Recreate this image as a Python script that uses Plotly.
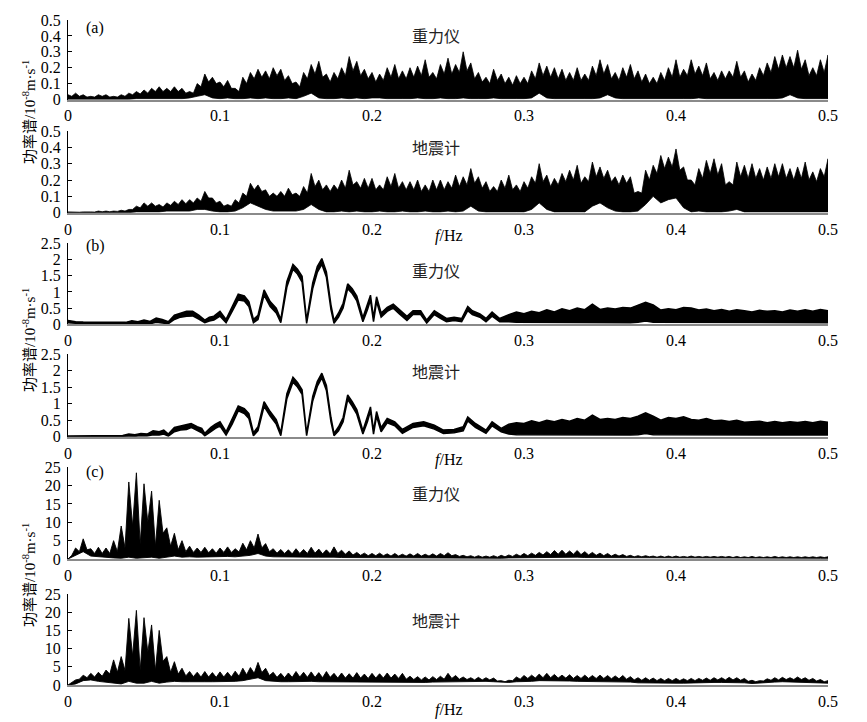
import plotly.graph_objects as go

W, H = 867, 722

# ---------------- data ----------------
FREQ_STEP = 0.005
freq = [round(i * FREQ_STEP, 4) for i in range(101)]

x_tickvals = [0, 0.1, 0.2, 0.3, 0.4, 0.5]
x_ticktext = ["0", "0.1", "0.2", "0.3", "0.4", "0.5"]
y_ticks_a = [0, 0.1, 0.2, 0.3, 0.4, 0.5]
y_ticks_b = [0, 0.5, 1, 1.5, 2, 2.5]
y_ticks_c = [0, 5, 10, 15, 20, 25]

# (a) spectrum every 0.005 Hz: spike tops (hi), valleys between spikes (mid), bottom (lo)
a_grav_hi = [0.03, 0.04, 0.03, 0.02, 0.03, 0.03, 0.02, 0.03, 0.04, 0.05,
             0.06, 0.07, 0.08, 0.07, 0.08, 0.07, 0.05, 0.10, 0.16, 0.14,
             0.11, 0.12, 0.07, 0.14, 0.17, 0.19, 0.18, 0.20, 0.19, 0.15,
             0.11, 0.17, 0.22, 0.24, 0.16, 0.17, 0.20, 0.27, 0.24, 0.19,
             0.17, 0.16, 0.20, 0.22, 0.18, 0.20, 0.21, 0.25, 0.17, 0.22,
             0.26, 0.22, 0.30, 0.23, 0.17, 0.14, 0.19, 0.16, 0.14, 0.15,
             0.14, 0.18, 0.23, 0.21, 0.20, 0.19, 0.17, 0.20, 0.16, 0.21,
             0.25, 0.22, 0.17, 0.20, 0.22, 0.18, 0.16, 0.14, 0.17, 0.20,
             0.25, 0.19, 0.25, 0.21, 0.23, 0.17, 0.18, 0.18, 0.24, 0.18,
             0.16, 0.20, 0.23, 0.27, 0.28, 0.27, 0.31, 0.25, 0.20, 0.25,
             0.28]
a_grav_mid = [0.02, 0.02, 0.015, 0.015, 0.02, 0.015, 0.015, 0.02, 0.03, 0.035,
              0.04, 0.05, 0.05, 0.05, 0.05, 0.04, 0.04, 0.08, 0.11, 0.10,
              0.08, 0.07, 0.05, 0.10, 0.13, 0.14, 0.13, 0.15, 0.12, 0.10,
              0.08, 0.13, 0.16, 0.14, 0.11, 0.13, 0.15, 0.18, 0.15, 0.13,
              0.11, 0.12, 0.14, 0.13, 0.13, 0.14, 0.15, 0.14, 0.13, 0.16,
              0.16, 0.17, 0.18, 0.13, 0.11, 0.10, 0.12, 0.10, 0.09, 0.10,
              0.10, 0.13, 0.15, 0.14, 0.13, 0.12, 0.12, 0.12, 0.12, 0.15,
              0.16, 0.13, 0.12, 0.14, 0.13, 0.11, 0.10, 0.10, 0.12, 0.14,
              0.14, 0.15, 0.16, 0.15, 0.13, 0.12, 0.13, 0.14, 0.14, 0.11,
              0.12, 0.15, 0.17, 0.19, 0.20, 0.20, 0.19, 0.15, 0.15, 0.17]
a_grav_lo = [0.00, 0.00, 0.00, 0.00, 0.00, 0.00, 0.00, 0.00, 0.00, 0.005,
             0.005, 0.005, 0.005, 0.005, 0.005, 0.005, 0.01, 0.02, 0.03, 0.01,
             0.005, 0.01, 0.005, 0.005, 0.01, 0.005, 0.01, 0.005, 0.005, 0.01,
             0.005, 0.02, 0.04, 0.01, 0.005, 0.005, 0.01, 0.005, 0.01, 0.005,
             0.01, 0.01, 0.005, 0.005, 0.005, 0.005, 0.01, 0.005, 0.005, 0.01,
             0.005, 0.005, 0.01, 0.005, 0.005, 0.005, 0.01, 0.005, 0.005, 0.005,
             0.005, 0.01, 0.04, 0.01, 0.005, 0.005, 0.005, 0.005, 0.005, 0.005,
             0.01, 0.03, 0.01, 0.005, 0.005, 0.005, 0.005, 0.005, 0.005, 0.005,
             0.005, 0.005, 0.005, 0.01, 0.005, 0.005, 0.005, 0.005, 0.005, 0.005,
             0.005, 0.005, 0.005, 0.005, 0.01, 0.03, 0.01, 0.005, 0.005, 0.005,
             0.005]
a_seis_hi = [0.005, 0.005, 0.005, 0.005, 0.01, 0.01, 0.01, 0.015, 0.02, 0.04,
             0.06, 0.06, 0.05, 0.06, 0.07, 0.08, 0.08, 0.09, 0.13, 0.09,
             0.07, 0.05, 0.08, 0.12, 0.18, 0.17, 0.14, 0.12, 0.13, 0.15,
             0.12, 0.16, 0.24, 0.20, 0.17, 0.17, 0.20, 0.26, 0.19, 0.21,
             0.21, 0.17, 0.22, 0.24, 0.19, 0.19, 0.20, 0.17, 0.20, 0.20,
             0.19, 0.23, 0.22, 0.27, 0.22, 0.19, 0.16, 0.20, 0.23, 0.17,
             0.19, 0.22, 0.30, 0.23, 0.21, 0.24, 0.26, 0.29, 0.22, 0.31,
             0.28, 0.26, 0.22, 0.23, 0.22, 0.13, 0.26, 0.29, 0.35, 0.34,
             0.39, 0.28, 0.20, 0.27, 0.32, 0.33, 0.30, 0.19, 0.31, 0.29,
             0.30, 0.27, 0.28, 0.30, 0.30, 0.27, 0.28, 0.31, 0.25, 0.27,
             0.33]
a_seis_mid = [0.003, 0.003, 0.003, 0.004, 0.006, 0.006, 0.008, 0.01, 0.02, 0.03,
              0.04, 0.04, 0.035, 0.045, 0.05, 0.055, 0.06, 0.07, 0.09, 0.06,
              0.04, 0.04, 0.06, 0.10, 0.14, 0.13, 0.10, 0.10, 0.10, 0.11,
              0.10, 0.12, 0.16, 0.14, 0.13, 0.14, 0.15, 0.17, 0.15, 0.15,
              0.14, 0.14, 0.16, 0.15, 0.14, 0.14, 0.13, 0.13, 0.14, 0.14,
              0.15, 0.16, 0.17, 0.18, 0.15, 0.13, 0.13, 0.15, 0.14, 0.13,
              0.15, 0.18, 0.19, 0.16, 0.17, 0.19, 0.20, 0.18, 0.19, 0.22,
              0.21, 0.19, 0.17, 0.18, 0.12, 0.12, 0.20, 0.24, 0.27, 0.28,
              0.26, 0.20, 0.17, 0.21, 0.24, 0.23, 0.17, 0.17, 0.22, 0.21,
              0.21, 0.20, 0.21, 0.22, 0.21, 0.20, 0.21, 0.20, 0.19, 0.22]
a_seis_lo = [0.00, 0.00, 0.00, 0.00, 0.00, 0.00, 0.00, 0.00, 0.00, 0.005,
             0.005, 0.005, 0.005, 0.01, 0.01, 0.01, 0.01, 0.02, 0.02, 0.01,
             0.005, 0.005, 0.01, 0.03, 0.06, 0.04, 0.02, 0.01, 0.01, 0.01,
             0.01, 0.02, 0.05, 0.02, 0.005, 0.005, 0.01, 0.005, 0.01, 0.005,
             0.005, 0.01, 0.005, 0.005, 0.01, 0.005, 0.005, 0.01, 0.005, 0.005,
             0.01, 0.005, 0.01, 0.04, 0.01, 0.005, 0.005, 0.005, 0.005, 0.005,
             0.005, 0.02, 0.06, 0.02, 0.005, 0.005, 0.005, 0.005, 0.005, 0.04,
             0.06, 0.03, 0.01, 0.005, 0.005, 0.01, 0.05, 0.10, 0.06, 0.08,
             0.09, 0.03, 0.005, 0.01, 0.005, 0.005, 0.005, 0.01, 0.02, 0.005,
             0.005, 0.005, 0.005, 0.005, 0.005, 0.005, 0.005, 0.005, 0.005, 0.005,
             0.005]

# (b) thick smooth trace: breakpoints (Hz) with lower / upper edge of the trace
b_grav_f = [0.000, 0.005, 0.010, 0.020, 0.030, 0.038, 0.042, 0.046, 0.050, 0.054,
            0.058, 0.062, 0.066, 0.070, 0.074, 0.078, 0.082, 0.086, 0.090, 0.093,
            0.096, 0.100, 0.104, 0.108, 0.112, 0.116, 0.119, 0.122, 0.125, 0.129,
            0.133, 0.137, 0.140, 0.144, 0.148, 0.151, 0.154, 0.157, 0.161, 0.164,
            0.167, 0.170, 0.173, 0.175, 0.178, 0.181, 0.184, 0.187, 0.190, 0.194,
            0.197, 0.199, 0.201, 0.203, 0.206, 0.210, 0.214, 0.218, 0.223, 0.227,
            0.232, 0.236, 0.241, 0.245, 0.249, 0.254, 0.259, 0.263, 0.266, 0.271,
            0.275, 0.279, 0.284,
            0.290, 0.295, 0.300, 0.305, 0.310, 0.315, 0.320, 0.325, 0.330, 0.335,
            0.340, 0.345, 0.350, 0.355, 0.360, 0.365, 0.370, 0.375, 0.380, 0.385,
            0.390, 0.395, 0.400, 0.405, 0.410, 0.415, 0.420, 0.425, 0.430, 0.435,
            0.440, 0.445, 0.450, 0.455, 0.460, 0.465, 0.470, 0.475, 0.480, 0.485,
            0.490, 0.495, 0.500]
b_grav_hi = [0.12, 0.08, 0.07, 0.06, 0.05, 0.06, 0.11, 0.08, 0.13, 0.09,
             0.19, 0.15, 0.08, 0.28, 0.34, 0.40, 0.40, 0.28, 0.13, 0.22,
             0.25, 0.40, 0.15, 0.55, 0.93, 0.88, 0.70, 0.15, 0.28, 1.06,
             0.70, 0.50, 0.15, 1.32, 1.85, 1.70, 1.48, 0.12, 1.28, 1.78,
             2.03, 1.62, 0.60, 0.12, 0.35, 0.65, 1.25, 1.10, 0.87, 0.20,
             0.60, 0.90, 0.20, 0.85, 0.35, 0.52, 0.62, 0.45, 0.25, 0.42,
             0.42, 0.13, 0.42, 0.30, 0.18, 0.22, 0.18, 0.55, 0.42, 0.32,
             0.18, 0.38, 0.18,
             0.30, 0.38, 0.33, 0.40, 0.36, 0.45, 0.38, 0.48, 0.42, 0.50,
             0.45, 0.62, 0.46, 0.50, 0.47, 0.52, 0.50, 0.58, 0.68, 0.60,
             0.44, 0.48, 0.45, 0.52, 0.50, 0.44, 0.47, 0.42, 0.46, 0.40,
             0.45, 0.42, 0.38, 0.43, 0.40, 0.42, 0.38, 0.44, 0.40, 0.45,
             0.40, 0.46, 0.42]
b_grav_lo = [0.05, 0.03, 0.03, 0.02, 0.02, 0.02, 0.03, 0.02, 0.04, 0.02,
             0.06, 0.04, 0.02, 0.15, 0.22, 0.25, 0.26, 0.16, 0.05, 0.10,
             0.13, 0.25, 0.05, 0.40, 0.75, 0.72, 0.55, 0.05, 0.15, 0.90,
             0.55, 0.35, 0.05, 1.15, 1.70, 1.55, 1.30, 0.03, 1.10, 1.60,
             1.85, 1.45, 0.45, 0.03, 0.22, 0.50, 1.10, 0.95, 0.72, 0.08,
             0.45, 0.75, 0.08, 0.70, 0.22, 0.40, 0.50, 0.32, 0.12, 0.30,
             0.30, 0.04, 0.30, 0.18, 0.08, 0.12, 0.08, 0.42, 0.30, 0.22,
             0.08, 0.25, 0.08,
             0.08, 0.06, 0.06, 0.05, 0.06, 0.05, 0.05, 0.05, 0.05, 0.05,
             0.05, 0.05, 0.05, 0.05, 0.05, 0.05, 0.05, 0.06, 0.10, 0.06,
             0.05, 0.05, 0.05, 0.05, 0.05, 0.05, 0.05, 0.05, 0.05, 0.05,
             0.05, 0.05, 0.05, 0.05, 0.05, 0.05, 0.05, 0.05, 0.05, 0.05,
             0.05, 0.05, 0.05]

b_seis_f = [0.000, 0.030, 0.036, 0.040, 0.044, 0.048, 0.052, 0.056, 0.060, 0.063,
            0.066, 0.070, 0.074, 0.078, 0.081, 0.085, 0.088, 0.090, 0.094, 0.097,
            0.100, 0.104, 0.108, 0.112, 0.116, 0.119, 0.122, 0.125, 0.129, 0.133,
            0.137, 0.140, 0.144, 0.148, 0.151, 0.154, 0.157, 0.161, 0.164, 0.167,
            0.170, 0.173, 0.175, 0.178, 0.181, 0.184, 0.187, 0.190, 0.194, 0.197,
            0.199, 0.201, 0.203, 0.206, 0.210, 0.215, 0.220, 0.227, 0.234, 0.241,
            0.247, 0.254, 0.260, 0.263, 0.268, 0.275, 0.279, 0.285,
            0.290, 0.295, 0.300, 0.305, 0.310, 0.315, 0.320, 0.325, 0.330, 0.335,
            0.340, 0.345, 0.350, 0.355, 0.360, 0.365, 0.370, 0.375, 0.380, 0.385,
            0.390, 0.395, 0.400, 0.405, 0.410, 0.415, 0.420, 0.425, 0.430, 0.435,
            0.440, 0.445, 0.450, 0.455, 0.460, 0.465, 0.470, 0.475, 0.480, 0.485,
            0.490, 0.495, 0.500]
b_seis_hi = [0.02, 0.02, 0.04, 0.08, 0.06, 0.10, 0.08, 0.18, 0.15, 0.20,
             0.08, 0.28, 0.32, 0.35, 0.40, 0.30, 0.25, 0.10, 0.28, 0.38,
             0.45, 0.15, 0.52, 0.93, 0.85, 0.70, 0.12, 0.30, 1.06, 0.76,
             0.52, 0.12, 1.30, 1.80, 1.64, 1.42, 0.10, 1.22, 1.67, 1.92,
             1.55, 0.58, 0.10, 0.30, 0.58, 1.26, 1.06, 0.82, 0.18, 0.58,
             0.90, 0.18, 0.76, 0.27, 0.55, 0.45, 0.22, 0.40, 0.45, 0.35,
             0.20, 0.22, 0.30, 0.60, 0.40, 0.20, 0.45, 0.25,
             0.38, 0.42, 0.40, 0.48, 0.42, 0.50, 0.45, 0.52, 0.47, 0.55,
             0.50, 0.65, 0.52, 0.55, 0.52, 0.58, 0.55, 0.62, 0.72, 0.62,
             0.50, 0.58, 0.55, 0.60, 0.52, 0.50, 0.55, 0.48, 0.50, 0.46,
             0.50, 0.44, 0.45, 0.47, 0.42, 0.46, 0.42, 0.45, 0.43, 0.46,
             0.42, 0.47, 0.44]
b_seis_lo = [0.00, 0.00, 0.00, 0.02, 0.01, 0.03, 0.02, 0.06, 0.05, 0.08,
             0.02, 0.15, 0.20, 0.22, 0.28, 0.18, 0.12, 0.03, 0.15, 0.25,
             0.32, 0.05, 0.38, 0.78, 0.70, 0.55, 0.03, 0.18, 0.92, 0.62,
             0.38, 0.03, 1.15, 1.65, 1.50, 1.28, 0.03, 1.08, 1.52, 1.78,
             1.40, 0.45, 0.03, 0.18, 0.45, 1.12, 0.92, 0.68, 0.08, 0.45,
             0.78, 0.08, 0.62, 0.15, 0.42, 0.33, 0.10, 0.28, 0.33, 0.23,
             0.10, 0.12, 0.18, 0.48, 0.28, 0.10, 0.33, 0.15,
             0.08, 0.06, 0.06, 0.05, 0.06, 0.05, 0.05, 0.05, 0.05, 0.05,
             0.05, 0.05, 0.05, 0.05, 0.05, 0.05, 0.05, 0.06, 0.10, 0.06,
             0.05, 0.05, 0.05, 0.05, 0.05, 0.05, 0.05, 0.05, 0.05, 0.05,
             0.05, 0.05, 0.05, 0.05, 0.05, 0.05, 0.05, 0.05, 0.05, 0.05,
             0.05, 0.05, 0.05]

# (c) spectrum every 0.005 Hz: spike tops (hi), valleys (mid), bottom (lo)
c_grav_hi = [0.0, 3.0, 5.5, 2.8, 3.2, 3.0, 5.0, 9.0, 21.0, 23.5,
             20.5, 18.5, 16.0, 8.5, 7.0, 5.0, 3.5, 3.0, 3.2, 2.8,
             3.0, 3.3, 2.8, 4.3, 5.0, 6.8, 4.2, 2.8, 2.6, 2.5,
             2.8, 2.6, 3.2, 2.7, 2.5, 3.3, 2.4, 2.2, 1.8, 1.6,
             1.5, 1.6, 1.4, 1.5, 1.3, 1.4, 1.5, 1.3, 1.4, 1.5,
             1.7, 1.2, 1.0, 0.9, 0.9, 0.8, 0.9, 1.0, 1.1, 1.3,
             1.5, 1.6, 1.8, 2.0, 2.3, 2.4, 2.2, 2.3, 2.0, 1.8,
             1.6, 1.5, 1.3, 1.2, 1.0, 0.9, 0.9, 0.8, 0.8, 0.8,
             0.8, 0.7, 0.8, 0.7, 0.7, 0.7, 0.7, 0.7, 0.7, 0.6,
             0.7, 0.6, 0.6, 0.7, 0.6, 0.6, 0.6, 0.6, 0.6, 0.6,
             0.6]
c_grav_mid = [1.0, 2.0, 2.5, 1.5, 1.5, 1.5, 2.0, 3.0, 9.0, 4.0,
              10.0, 3.5, 7.0, 3.5, 2.5, 2.0, 1.8, 1.8, 1.7, 1.6,
              1.8, 1.8, 1.9, 2.5, 3.0, 3.0, 2.0, 1.6, 1.5, 1.4,
              1.5, 1.5, 1.6, 1.4, 1.4, 1.5, 1.3, 1.1, 1.0, 0.9,
              0.9, 0.9, 0.8, 0.8, 0.8, 0.8, 0.8, 0.8, 0.8, 0.9,
              0.9, 0.7, 0.6, 0.5, 0.5, 0.5, 0.5, 0.6, 0.7, 0.8,
              0.9, 1.0, 1.1, 1.2, 1.3, 1.3, 1.3, 1.2, 1.1, 1.0,
              0.9, 0.8, 0.8, 0.7, 0.6, 0.6, 0.6, 0.5, 0.5, 0.5,
              0.5, 0.5, 0.5, 0.5, 0.5, 0.5, 0.5, 0.4, 0.4, 0.4,
              0.4, 0.4, 0.4, 0.4, 0.4, 0.4, 0.4, 0.4, 0.4, 0.4]
c_grav_lo = [0.0, 1.0, 2.0, 0.8, 0.8, 0.5, 0.3, 0.2, 0.5, 0.2,
             0.3, 0.5, 0.2, 0.5, 0.8, 0.5, 0.6, 0.5, 0.6, 0.5,
             0.6, 0.7, 0.6, 0.8, 1.0, 1.5, 0.8, 0.6, 0.5, 0.5,
             0.5, 0.5, 0.5, 0.5, 0.4, 0.5, 0.4, 0.4, 0.4, 0.3,
             0.3, 0.3, 0.3, 0.3, 0.3, 0.3, 0.3, 0.3, 0.3, 0.3,
             0.3, 0.2, 0.2, 0.2, 0.2, 0.2, 0.2, 0.2, 0.3, 0.3,
             0.3, 0.3, 0.4, 0.4, 0.5, 0.5, 0.5, 0.5, 0.4, 0.4,
             0.4, 0.3, 0.3, 0.3, 0.2, 0.2, 0.2, 0.2, 0.2, 0.2,
             0.2, 0.2, 0.2, 0.2, 0.2, 0.2, 0.2, 0.2, 0.2, 0.2,
             0.2, 0.2, 0.2, 0.2, 0.2, 0.2, 0.2, 0.2, 0.2, 0.2,
             0.2]
c_seis_hi = [0.0, 1.4, 2.7, 3.2, 3.5, 4.1, 6.9, 7.8, 18.3, 20.5,
             18.5, 16.5, 15.0, 7.8, 6.4, 4.6, 3.7, 3.5, 3.7, 3.4,
             3.6, 3.5, 3.8, 4.6, 4.8, 6.2, 4.6, 3.5, 3.2, 3.3,
             3.7, 3.5, 3.6, 3.4, 3.7, 3.2, 3.3, 3.1, 3.4, 3.0,
             3.2, 3.1, 3.3, 3.0, 3.2, 2.4, 2.3, 2.2, 2.3, 2.4,
             3.2, 2.6, 2.2, 2.0, 2.1, 2.0, 1.9, 1.2, 1.3, 2.2,
             2.6, 2.7, 3.0, 3.2, 2.9, 2.7, 2.8, 2.6, 2.7, 2.6,
             2.7, 2.6, 2.5, 2.6, 2.3, 2.0, 2.0, 1.9, 1.8, 1.8,
             1.8, 1.7, 1.8, 1.8, 1.9, 2.0, 2.0, 2.1, 2.0, 1.8,
             1.3, 1.2, 1.7, 2.0, 2.1, 2.0, 2.2, 2.0, 1.8, 1.5,
             1.2]
c_seis_mid = [0.6, 1.6, 2.0, 2.2, 2.4, 3.0, 3.5, 4.0, 8.0, 4.0,
              9.0, 4.0, 6.5, 3.5, 3.0, 2.5, 2.3, 2.2, 2.2, 2.1,
              2.2, 2.2, 2.4, 2.8, 3.2, 3.4, 2.6, 2.1, 2.0, 2.1,
              2.2, 2.1, 2.1, 2.0, 2.1, 1.9, 1.9, 1.9, 1.9, 1.8,
              1.9, 1.9, 1.9, 1.8, 1.6, 1.5, 1.4, 1.4, 1.5, 1.6,
              1.8, 1.6, 1.5, 1.4, 1.4, 1.4, 1.1, 0.9, 1.2, 1.6,
              1.8, 1.9, 2.0, 2.0, 1.9, 1.9, 1.8, 1.8, 1.8, 1.8,
              1.8, 1.7, 1.7, 1.6, 1.4, 1.3, 1.3, 1.2, 1.2, 1.2,
              1.2, 1.2, 1.2, 1.3, 1.3, 1.4, 1.4, 1.4, 1.3, 1.0,
              0.9, 1.1, 1.3, 1.4, 1.5, 1.5, 1.5, 1.3, 1.1, 0.9]
c_seis_lo = [0.0, 0.3, 1.2, 1.4, 1.0, 0.8, 0.5, 0.3, 1.0, 0.5,
             0.5, 1.0, 0.5, 0.8, 1.0, 0.9, 0.9, 0.8, 0.9, 0.9,
             0.9, 0.9, 1.0, 1.2, 1.5, 2.0, 1.2, 1.0, 0.9, 0.9,
             1.0, 0.9, 1.0, 0.9, 0.9, 0.8, 0.8, 0.8, 0.8, 0.8,
             0.8, 0.8, 0.8, 0.8, 0.8, 0.7, 0.7, 0.7, 0.8, 0.8,
             0.9, 0.9, 1.0, 1.0, 1.0, 1.0, 0.9, 0.7, 0.7, 0.9,
             1.0, 1.0, 1.2, 1.3, 1.2, 1.1, 1.1, 1.0, 1.0, 1.0,
             1.0, 0.9, 0.9, 0.8, 0.8, 0.6, 0.6, 0.5, 0.5, 0.5,
             0.5, 0.5, 0.5, 0.6, 0.6, 0.7, 0.7, 0.8, 0.7, 0.6,
             0.4, 0.4, 0.6, 0.8, 0.9, 0.9, 0.9, 0.8, 0.7, 0.6,
             0.5]

panel_names = ["重力仪", "地震计", "重力仪", "地震计", "重力仪", "地震计"]
group_labels = ["(a)", "(b)", "(c)"]
y_title = "功率谱/10<sup>-8</sup>m·s<sup>-1</sup>"
x_title = "<i>f</i>/Hz"

# ---------------- layout geometry (screen pixels) ----------------
PAGE_OFF = 8                       # the page body adds an 8 px margin
X0_SCREEN, X1_SCREEN = 68, 828     # x = 0 and x = 0.5 on screen
ML = X0_SCREEN - PAGE_OFF
MR = W - (X1_SCREEN - PAGE_OFF)
PW = W - ML - MR
panel_px = [(20, 99.5), (131, 212.7), (243.3, 324.3),
            (354, 436.7), (467.3, 559), (594, 685)]
y_ranges = [[0, 0.5], [0, 0.5], [0, 2.5], [0, 2.5], [0, 25], [0, 25]]
y_tick_sets = [y_ticks_a, y_ticks_a, y_ticks_b, y_ticks_b, y_ticks_c, y_ticks_c]


def px_x(px):
    return (px - PAGE_OFF - ML) / PW


def px_y(py):
    return 1 - (py - PAGE_OFF) / H


SERIF = "Liberation Serif, Times New Roman, serif"
CJK = "Noto Sans CJK SC, sans-serif"
MIXED = "Liberation Serif, Noto Sans CJK SC, serif"

fig = go.Figure()


def axes_of(idx):
    return ("x" if idx == 1 else f"x{idx}", "y" if idx == 1 else f"y{idx}")


def band(fx, hi, lo, idx, lw):
    xa, ya = axes_of(idx)
    xs = list(fx) + list(fx)[::-1]
    ys = list(hi) + list(lo)[::-1]
    fig.add_trace(go.Scatter(
        x=xs, y=ys, mode="lines", fill="toself", fillcolor="black",
        line=dict(color="black", width=lw), hoverinfo="skip",
        xaxis=xa, yaxis=ya, showlegend=False))


def spiky_band(fx, hi, mid, lo, idx, lw):
    """Filled trace whose top edge runs through spike tops and the valleys between them."""
    xa, ya = axes_of(idx)
    half = FREQ_STEP / 2
    xs, ys = [], []
    for i, f in enumerate(fx):
        xs.append(f)
        ys.append(hi[i])
        if i < len(mid):
            xs.append(f + half)
            ys.append(mid[i])
    xs += list(fx)[::-1]
    ys += list(lo)[::-1]
    fig.add_trace(go.Scatter(
        x=xs, y=ys, mode="lines", fill="toself", fillcolor="black",
        line=dict(color="black", width=lw), hoverinfo="skip",
        xaxis=xa, yaxis=ya, showlegend=False))


spiky_band(freq, a_grav_hi, a_grav_mid, a_grav_lo, 1, 0.8)
spiky_band(freq, a_seis_hi, a_seis_mid, a_seis_lo, 2, 0.8)
band(b_grav_f, b_grav_hi, b_grav_lo, 3, 1.5)
band(b_seis_f, b_seis_hi, b_seis_lo, 4, 1.5)
spiky_band(freq, c_grav_hi, c_grav_mid, c_grav_lo, 5, 0.9)
spiky_band(freq, c_seis_hi, c_seis_mid, c_seis_lo, 6, 0.9)

layout = dict(
    width=W, height=H,
    margin=dict(l=ML, r=MR, t=0, b=0, autoexpand=False),
    paper_bgcolor="white", plot_bgcolor="white",
    showlegend=False,
)
for k in range(6):
    top, bot = panel_px[k]
    sx = "" if k == 0 else str(k + 1)
    layout[f"xaxis{sx}"] = dict(
        domain=[0, 1], range=[0, 0.5], anchor=f"y{sx}", automargin=False,
        showline=True, linecolor="#8a8a8a", linewidth=1.5,
        showgrid=False, zeroline=False, ticks="",
        tickvals=x_tickvals, ticktext=x_ticktext,
        tickfont=dict(family=SERIF, size=16, color="black"),
        ticklabelstandoff=1,
    )
    layout[f"yaxis{sx}"] = dict(
        domain=[px_y(bot), px_y(top)], range=y_ranges[k], anchor=f"x{sx}",
        automargin=False,
        showline=True, linecolor="black", linewidth=1,
        showgrid=False, zeroline=False,
        ticks="inside", ticklen=4, tickwidth=1, tickcolor="black",
        tickvals=y_tick_sets[k],
        tickfont=dict(family=SERIF, size=16, color="black"),
        ticklabelstandoff=3,
    )

annotations = []
name_y = [35, 147, 270, 371, 493, 620]
for k in range(6):
    annotations.append(dict(
        text=panel_names[k], x=px_x(436), y=px_y(name_y[k]), xref="paper", yref="paper",
        xanchor="center", yanchor="middle", showarrow=False,
        font=dict(family=CJK, size=16, color="#222")))
group_y = [28, 246, 472]
for g in range(3):
    annotations.append(dict(
        text=group_labels[g], x=px_x(84), y=px_y(group_y[g]), xref="paper", yref="paper",
        xanchor="left", yanchor="middle", showarrow=False,
        font=dict(family=SERIF, size=16, color="black")))
ytitle_y = [112, 340, 575]
for g in range(3):
    annotations.append(dict(
        text=y_title, x=px_x(29), y=px_y(ytitle_y[g]), xref="paper", yref="paper",
        xanchor="center", yanchor="middle", showarrow=False, textangle=-90,
        font=dict(family=MIXED, size=15, color="black")))
xtitle_y = [236, 460, 710]
for g in range(3):
    annotations.append(dict(
        text=x_title, x=px_x(449), y=px_y(xtitle_y[g]), xref="paper", yref="paper",
        xanchor="center", yanchor="middle", showarrow=False,
        font=dict(family=SERIF, size=16, color="black")))
layout["annotations"] = annotations

fig.update_layout(**layout)
fig.write_html("out.html")
